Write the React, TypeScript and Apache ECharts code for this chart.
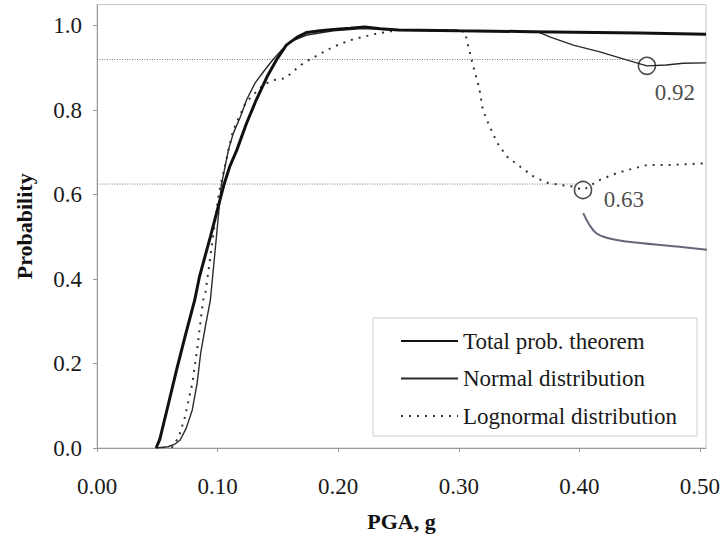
import React, { useEffect, useRef } from "react";
import * as echarts from "echarts";

// ---- data ----
const xTicks = [0, 0.1, 0.2, 0.3, 0.4, 0.5];
const yTicks = [0, 0.2, 0.4, 0.6, 0.8, 1.0];

const pgaTotal = [0.049, 0.052, 0.058, 0.066, 0.073, 0.081, 0.085, 0.094, 0.105, 0.11, 0.116, 0.124, 0.132, 0.141, 0.149, 0.157, 0.166, 0.174, 0.185, 0.196, 0.21, 0.222, 0.235, 0.25, 0.3, 0.36, 0.45, 0.505];
const probTotal = [0, 0.02, 0.09, 0.185, 0.264, 0.35, 0.406, 0.5, 0.621, 0.666, 0.706, 0.769, 0.824, 0.879, 0.92, 0.954, 0.973, 0.984, 0.988, 0.991, 0.994, 0.997, 0.993, 0.99, 0.988, 0.986, 0.983, 0.98];

const pgaNormal = [0.049, 0.059, 0.065, 0.069, 0.074, 0.079, 0.083, 0.086, 0.09, 0.094, 0.098, 0.103, 0.109, 0.113, 0.119, 0.124, 0.131, 0.138, 0.146, 0.153, 0.16, 0.174, 0.196, 0.22, 0.25, 0.3, 0.365, 0.376, 0.395, 0.417, 0.439, 0.456, 0.472, 0.486, 0.505];
const probNormal = [0, 0.003, 0.01, 0.019, 0.047, 0.09, 0.153, 0.225, 0.29, 0.35, 0.469, 0.621, 0.706, 0.745, 0.785, 0.824, 0.864, 0.891, 0.92, 0.942, 0.962, 0.978, 0.988, 0.993, 0.99, 0.988, 0.986, 0.973, 0.954, 0.938, 0.919, 0.905, 0.907, 0.911, 0.912];

const pgaLognormal = [0.062, 0.068, 0.073, 0.079, 0.083, 0.088, 0.09, 0.094, 0.101, 0.106, 0.109, 0.113, 0.123, 0.128, 0.138, 0.146, 0.155, 0.162, 0.167, 0.174, 0.188, 0.196, 0.21, 0.23, 0.25, 0.3, 0.305, 0.311, 0.317, 0.32, 0.325, 0.332, 0.34, 0.351, 0.362, 0.373, 0.384, 0.395, 0.403, 0.417, 0.431, 0.445, 0.456, 0.472, 0.505];
const probLognormal = [0, 0.027, 0.074, 0.153, 0.232, 0.35, 0.37, 0.453, 0.603, 0.666, 0.706, 0.753, 0.816, 0.832, 0.86, 0.871, 0.875, 0.889, 0.903, 0.916, 0.938, 0.95, 0.966, 0.98, 0.99, 0.988, 0.986, 0.915, 0.852, 0.8, 0.765, 0.722, 0.69, 0.666, 0.643, 0.628, 0.623, 0.619, 0.611, 0.635, 0.651, 0.662, 0.67, 0.67, 0.674];

// reference levels (dotted horizontal lines)
const refLevels = [0.92, 0.625];
const refEnds = [0.45, 0.397];

// circled annotations
const markerPga = [0.456, 0.403];
const markerProb = [0.905, 0.611];
const markerLabels = ["0.92", "0.63"];

// hand-drawn pen stroke on the scan
const penPga = [0.4032, 0.408, 0.4143, 0.425, 0.439, 0.481, 0.522];
const penProb = [0.556, 0.53, 0.508, 0.496, 0.489, 0.477, 0.465];

const seriesNames = ["Total prob. theorem", "Normal distribution", "Lognormal distribution"];

const zip = (xs: number[], ys: number[]) => xs.map((x, i) => [x, ys[i]]);

const FONT = "'Times New Roman', 'Liberation Serif', 'DejaVu Serif', serif";

export default function App() {
  const ref = useRef<HTMLDivElement>(null);
  useEffect(() => {
    if (!ref.current) return;
    const chart = echarts.init(ref.current, undefined, { renderer: "svg" });
    const labelOffsets = [[28, 27], [41, 10]];
    const plain = { fontFamily: FONT, fontWeight: "normal", fontStyle: "normal" };
    chart.setOption({
      animation: false,
      backgroundColor: "#fff",
      textStyle: { ...plain },
      grid: {
        left: 97,
        right: 20,
        top: 4.6,
        bottom: 110,
        show: true,
        borderColor: "#c4c4c4",
        borderWidth: 1,
        outerBoundsMode: "none",
      },
      legend: {
        data: seriesNames,
        orient: "vertical",
        left: 373,
        top: 318,
        padding: [11, 20, 8, 27],
        itemWidth: 57,
        itemHeight: 14,
        itemGap: 13.5,
        borderColor: "#cfcfcf",
        borderWidth: 1,
        backgroundColor: "#fff",
        itemStyle: { opacity: 0 },
        textStyle: { ...plain, fontSize: 23, color: "#1a1a1a", lineHeight: 24 },
      },
      xAxis: {
        type: "value",
        min: 0,
        max: 0.505,
        name: "PGA, g",
        nameLocation: "middle",
        nameGap: 62,
        nameTextStyle: { fontFamily: FONT, fontWeight: "bold", fontSize: 22, color: "#111" },
        axisLine: { show: true, lineStyle: { color: "#9a9a9a", width: 1 } },
        axisTick: { show: true, length: 4, lineStyle: { color: "#9a9a9a" }, customValues: xTicks },
        axisLabel: {
          customValues: xTicks,
          formatter: (v: number) => v.toFixed(2),
          ...plain,
          fontSize: 23,
          color: "#1a1a1a",
          margin: 27,
        },
        splitLine: { show: false },
      },
      yAxis: {
        type: "value",
        min: 0,
        max: 1.05,
        name: "Probability",
        nameLocation: "middle",
        nameGap: 62,
        nameTextStyle: { fontFamily: FONT, fontWeight: "bold", fontSize: 22, color: "#111" },
        axisLine: { show: true, lineStyle: { color: "#9a9a9a", width: 1 } },
        axisTick: { show: true, length: 4, lineStyle: { color: "#9a9a9a" }, customValues: yTicks },
        axisLabel: {
          customValues: yTicks,
          formatter: (v: number) => v.toFixed(1),
          ...plain,
          fontSize: 23,
          color: "#1a1a1a",
          margin: 15,
        },
        splitLine: { show: false },
      },
      series: [
        ...refLevels.map((lv, i) => ({
          type: "line",
          name: "ref" + i,
          data: [[0, lv], [refEnds[i], lv]],
          symbol: "none",
          silent: true,
          z: 1,
          lineStyle: { color: "#7a7a7a", width: 1, type: [1, 1.5] },
        })),
        {
          type: "line",
          name: seriesNames[2],
          data: zip(pgaLognormal, probLognormal),
          symbol: "none",
          showSymbol: false,
          z: 2,
          lineStyle: { color: "#333", width: 2, type: [2, 6] },
          itemStyle: { color: "#333" },
        },
        {
          type: "line",
          name: seriesNames[1],
          data: zip(pgaNormal, probNormal),
          symbol: "none",
          showSymbol: false,
          z: 3,
          lineStyle: { color: "#2a2a2a", width: 1.4 },
          itemStyle: { color: "#2a2a2a" },
        },
        {
          type: "line",
          name: seriesNames[0],
          data: zip(pgaTotal, probTotal),
          symbol: "none",
          showSymbol: false,
          z: 4,
          lineStyle: { color: "#111", width: 3 },
          itemStyle: { color: "#111" },
        },
        {
          type: "scatter",
          name: "markers",
          data: markerPga.map((x, i) => ({
            value: [x, markerProb[i]],
            label: {
              show: true,
              position: "inside",
              offset: labelOffsets[i],
              formatter: markerLabels[i],
              ...plain,
              fontSize: 23,
              color: "#1a1a1a",
            },
          })),
          symbol: "circle",
          symbolSize: 17,
          z: 5,
          silent: true,
          itemStyle: { color: "rgba(255,255,255,0)", borderColor: "#222", borderWidth: 1.6 },
        },
        {
          type: "line",
          name: "pen",
          data: zip(penPga, penProb),
          symbol: "none",
          smooth: 0.4,
          clip: false,
          silent: true,
          z: 5,
          lineStyle: { color: "#6a6478", width: 2 },
        },
      ],
    });
    return () => chart.dispose();
  }, []);
  return (
    <div
      ref={ref}
      style={{ position: "fixed", left: 0, top: 0, width: 726, height: 558, background: "#fff" }}
    />
  );
}
